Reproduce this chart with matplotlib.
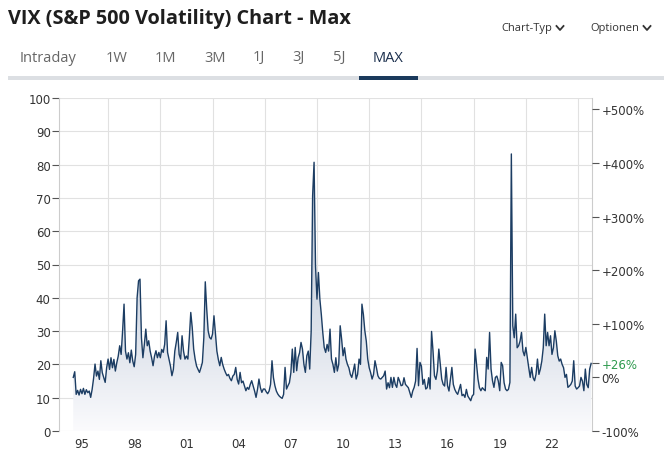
import numpy as np
import matplotlib
matplotlib.use("Agg")
import matplotlib.pyplot as plt
from matplotlib.lines import Line2D
from matplotlib.colors import LinearSegmentedColormap

# monthly VIX readings, Jan 1995 .. Oct 2024
years = list(range(1995, 2025))
vix_by_year = {
    1995: [16.1, 17.8, 11.0, 12.2, 10.8, 12.5, 11.2, 12.8, 11.0, 12.4, 11.5, 12.0],
    1996: [10.1, 12.5, 15.8, 20.1, 16.5, 18.0, 15.5, 21.1, 17.5, 16.0, 14.6, 19.0],
    1997: [21.6, 18.5, 22.0, 19.0, 21.5, 18.0, 20.5, 22.5, 25.6, 23.0, 30.0, 38.1],
    1998: [24.0, 21.6, 23.5, 20.5, 24.3, 21.0, 19.3, 23.0, 40.0, 45.1, 45.6, 28.0],
    1999: [22.0, 26.0, 30.6, 25.6, 27.1, 24.0, 22.0, 19.6, 22.5, 24.1, 22.0, 23.6],
    2000: [22.0, 24.5, 23.6, 26.0, 33.1, 23.6, 21.6, 19.5, 16.6, 18.5, 24.0, 26.6],
    2001: [29.6, 23.0, 21.6, 28.6, 24.0, 21.6, 22.5, 21.6, 28.0, 35.6, 31.1, 24.6],
    2002: [21.6, 19.5, 18.5, 17.6, 19.0, 20.6, 28.0, 44.8, 36.6, 30.0, 28.1, 27.6],
    2003: [29.1, 34.6, 29.1, 24.0, 21.5, 19.6, 22.1, 20.0, 18.6, 17.5, 16.6, 17.0],
    2004: [15.8, 15.1, 16.5, 17.0, 19.1, 15.5, 14.1, 17.6, 14.5, 15.0, 13.5, 12.1],
    2005: [13.1, 12.5, 14.0, 15.1, 13.5, 12.0, 10.1, 12.5, 15.6, 13.0, 11.6, 12.6],
    2006: [12.6, 11.8, 11.2, 12.0, 14.0, 21.1, 16.0, 13.6, 12.0, 11.1, 10.5, 10.1],
    2007: [9.8, 11.0, 19.1, 12.6, 13.6, 14.5, 17.5, 24.6, 17.6, 25.1, 18.1, 22.0],
    2008: [23.5, 26.6, 24.6, 20.0, 17.6, 22.6, 24.0, 18.6, 30.0, 70.6, 80.7, 49.6],
    2009: [39.6, 47.6, 39.6, 35.0, 29.6, 25.1, 23.6, 26.0, 24.0, 30.6, 21.6, 20.0],
    2010: [17.6, 22.0, 18.0, 20.0, 31.6, 27.6, 22.6, 25.0, 21.6, 20.0, 19.0, 17.0],
    2011: [16.1, 18.0, 20.1, 15.6, 17.0, 21.6, 20.0, 38.1, 35.0, 30.1, 27.0, 21.6],
    2012: [19.0, 17.5, 15.6, 17.0, 21.1, 19.0, 16.6, 15.8, 15.6, 16.1, 16.6, 18.0],
    2013: [12.6, 14.5, 13.0, 16.1, 13.1, 16.1, 14.0, 13.1, 16.1, 15.0, 13.6, 13.8],
    2014: [16.0, 14.0, 13.5, 13.0, 11.5, 10.1, 12.0, 13.1, 15.0, 24.8, 13.6, 20.6],
    2015: [19.5, 14.0, 15.5, 12.6, 13.0, 16.0, 12.6, 29.9, 24.0, 16.6, 15.5, 18.0],
    2016: [24.6, 20.0, 15.6, 14.0, 13.5, 19.1, 13.6, 12.0, 15.5, 19.1, 14.0, 12.5],
    2017: [11.6, 11.0, 12.5, 14.0, 10.6, 11.0, 10.1, 12.5, 10.5, 9.8, 9.1, 10.5],
    2018: [11.0, 24.6, 20.0, 15.6, 13.0, 12.1, 13.0, 12.5, 12.1, 22.1, 18.6, 29.6],
    2019: [18.6, 15.1, 13.1, 16.1, 16.5, 15.0, 12.1, 20.6, 19.6, 14.5, 12.6, 12.1],
    2020: [12.5, 14.6, 83.2, 31.6, 28.0, 35.1, 25.0, 25.6, 27.0, 29.6, 24.0, 22.6],
    2021: [25.1, 22.0, 19.0, 16.1, 19.1, 16.0, 15.1, 17.0, 21.6, 17.0, 18.6, 21.0],
    2022: [25.0, 35.1, 25.6, 29.6, 25.6, 28.6, 23.0, 25.0, 30.1, 27.0, 22.6, 21.0],
    2023: [21.6, 20.0, 19.0, 16.1, 17.0, 13.1, 13.5, 14.0, 15.0, 21.1, 13.5, 12.6],
    2024: [13.0, 13.5, 16.1, 15.0, 12.1, 18.6, 14.0, 13.0, 18.6, 20.3],
}

x_labels = ["95", "98", "01", "04", "07", "10", "13", "16", "19", "22"]
label_years = [1995, 1998, 2001, 2004, 2007, 2010, 2013, 2016, 2019, 2022]
grid_years = list(range(1997, 2025, 3))
left_ticks = list(range(0, 101, 10))
pct_ticks = [-100, 0, 100, 200, 300, 400, 500]
tabs = ["Intraday", "1W", "1M", "3M", "1J", "3J", "5J", "MAX"]

t = []
v = []
for y in years:
    for m, val in enumerate(vix_by_year[y]):
        t.append(y + m / 12)
        v.append(val)
t = np.array(t)
v = np.array(v)

W, H = 664, 456
fig = plt.figure(figsize=(W / 100, H / 100), dpi=100)

def fx(px):
    return px / W

def fy(py):
    return 1 - py / H

# header
fig.text(fx(8), fy(19), "VIX (S&P 500 Volatility) Chart - Max", fontsize=14.3,
         fontweight="bold", family="Open Sans", color="#1e1e1e", va="center")
for label, x0, x1 in [("Chart-Typ", 501, 554), ("Optionen", 590, 641)]:
    fig.text(fx(x0), fy(29), label, fontsize=8, family="Open Sans", color="#333333", va="center")
    cx = x1 + 6
    fig.add_artist(Line2D([fx(cx - 3.5), fx(cx), fx(cx + 3.5)], [fy(27), fy(31), fy(27)],
                          color="#333333", lw=1.3, transform=fig.transFigure))

tab_x = [20, 106, 155, 204, 253, 292, 333, 373]
for label, x0 in zip(tabs, tab_x):
    col = "#1b2f4d" if label == "MAX" else "#666666"
    fig.text(fx(x0), fy(58), label, fontsize=10.5, family="Open Sans", color=col, va="center")
fig.add_artist(plt.Rectangle((fx(8), fy(81)), fx(656), 4 / H, color="#dcdfe3",
                             transform=fig.transFigure, lw=0))
fig.add_artist(plt.Rectangle((fx(359), fy(81)), fx(59), 4 / H, color="#1b3a5c",
                             transform=fig.transFigure, lw=0))

# chart area
ax = fig.add_axes([fx(59), fy(432), fx(592 - 59), (432 - 99) / H])
x_min, x_max = 1994.18, 2024.8
ax.set_xlim(x_min, x_max)
ax.set_ylim(0, 100)

line_color = "#1c3d63"
poly = ax.fill_between(t, v, 0, color="none", lw=0)
grad = np.linspace(0, 1, 256).reshape(-1, 1)
cmap = LinearSegmentedColormap.from_list(
    "g", [(0, "#fbfbfd"), (0.25, "#e4e8ef"), (0.6, "#ccd4e0"), (1, "#b6c2d3")])
img = ax.imshow(grad, extent=[x_min, x_max, 0, 85], origin="lower", aspect="auto",
                cmap=cmap, zorder=1)
img.set_clip_path(poly.get_paths()[0], transform=ax.transData)
ax.plot(t, v, color=line_color, lw=1.0, zorder=3)

for gy in left_ticks:
    ax.axhline(gy, color="#e1e1e1", lw=0.8, zorder=0)
for gx in grid_years:
    ax.axvline(gx, color="#e1e1e1", lw=0.8, zorder=0)

ax.set_yticks(left_ticks)
ax.set_yticklabels([str(i) for i in left_ticks])
ax.set_xticks([y + 0.5 for y in label_years])
ax.set_xticklabels(x_labels)
ax.tick_params(axis="y", direction="out", length=5, width=0.8, color="#555555",
               labelsize=8.5, labelcolor="#333333", pad=1)
ax.tick_params(axis="x", length=0, labelsize=8.5, labelcolor="#333333", pad=4)
for s in ["top", "bottom"]:
    ax.spines[s].set_visible(False)
for s in ["left", "right"]:
    ax.spines[s].set_color("#cccccc")
    ax.spines[s].set_linewidth(0.8)

# percent axis relative to first value
base = v[0]
last = v[-1]
pct_now = round((last / base - 1) * 100)
ax2 = ax.twinx()
ax2.set_ylim(0, 100)
ticks2 = [base * (1 + p / 100) for p in pct_ticks] + [last]
labels2 = [("+%d%%" % p) if p > 0 else ("%d%%" % p) for p in pct_ticks] + ["+%d%%" % pct_now]
ax2.set_yticks(ticks2)
ax2.set_yticklabels(labels2)
ax2.tick_params(axis="y", direction="out", length=5, width=0.8, color="#555555",
                labelsize=8.5, labelcolor="#333333", pad=2)
ax2.get_yticklabels()[-1].set_color("#2e9a4e")
for s in ax2.spines.values():
    s.set_visible(False)

fig.savefig("out.png", dpi=100)
